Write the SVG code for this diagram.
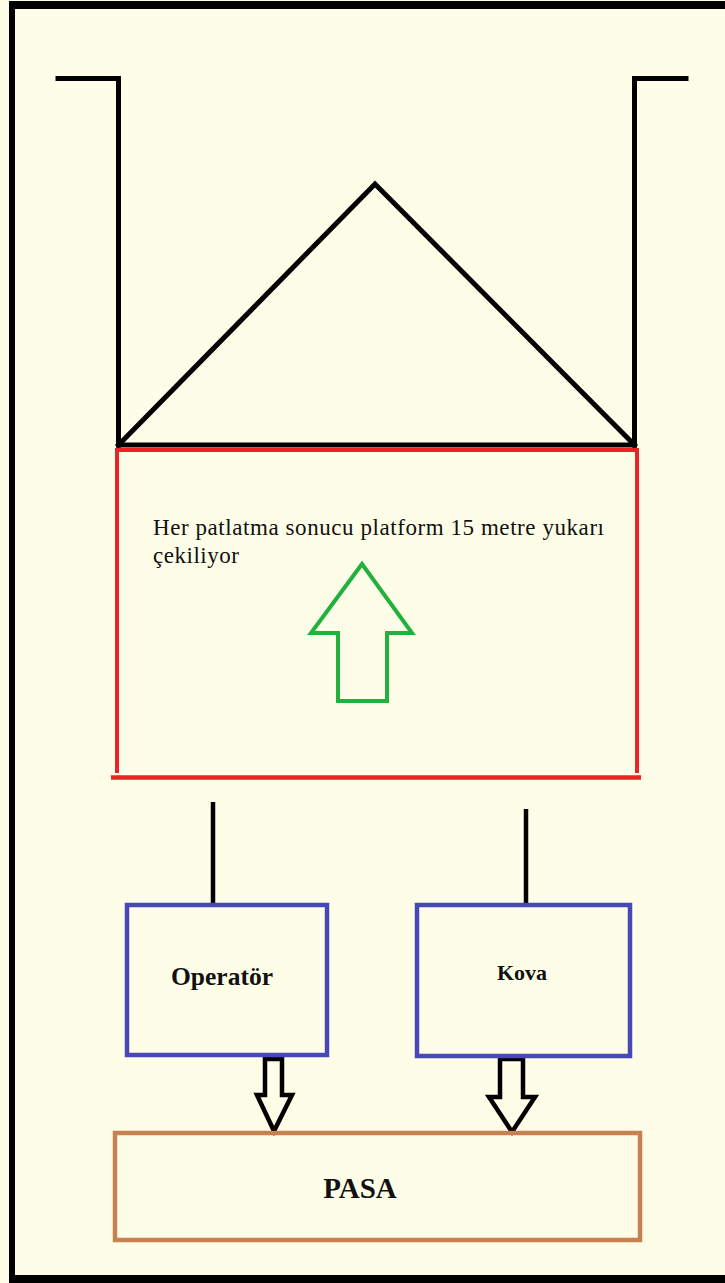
<svg xmlns="http://www.w3.org/2000/svg" width="725" height="1283" viewBox="0 0 725 1283">
<style>
.blk{stroke:#000;stroke-width:5;fill:none;stroke-linecap:square}
.box{fill:none;stroke:#4848b8;stroke-width:4.5}
.txt{font-family:"Liberation Serif","Times New Roman",serif;fill:#111}
.bold{font-weight:bold}
.darr{fill:#fefee8;stroke:#000;stroke-width:4.5;stroke-linejoin:miter}
</style>
<rect x="0" y="0" width="725" height="1283" fill="#fefee8"/>
<g id="frame">
<rect x="9" y="1" width="716" height="8" fill="#000"/>
<rect x="9" y="1" width="6" height="1282" fill="#000"/>
<rect x="9" y="1275" width="716" height="8" fill="#000"/>
</g>
<g id="structure">
<polyline class="blk" points="58,78.5 118.5,78.5 118.5,445"/>
<polyline class="blk" points="686,78.5 634.5,78.5 634.5,445"/>
<polyline class="blk" points="118.5,445 375,184 634.5,445"/>
<line class="blk" x1="118.5" y1="445" x2="634.5" y2="445"/>
</g>
<g id="platform">
<polyline points="117,773 117,450 637,450 637,773" fill="none" stroke="#ee2222" stroke-width="4"/>
<line x1="111" y1="777.5" x2="641" y2="777.5" stroke="#ee2222" stroke-width="4.5"/>
<text class="txt" x="153" y="535" font-size="23" textLength="451" lengthAdjust="spacing">Her patlatma sonucu platform 15 metre yukarı</text>
<text class="txt" x="153" y="563" font-size="23" textLength="86" lengthAdjust="spacing">çekiliyor</text>
<polygon points="362,564 412,633 387,633 387,701 338,701 338,633 311,633" fill="none" stroke="#22b13c" stroke-width="4"/>
</g>
<g id="connectors">
<line x1="213" y1="802" x2="213" y2="904" stroke="#000" stroke-width="4.5"/>
<line x1="526" y1="809" x2="526" y2="904" stroke="#000" stroke-width="4.5"/>
<polygon class="darr" points="265,1059 282,1059 282,1095 292,1095 274,1131 257,1095 265,1095"/>
<polygon class="darr" points="500,1059 523,1059 523,1097 535,1097 512,1132 489,1097 500,1097"/>
</g>
<g id="operator">
<rect class="box" x="127" y="905" width="200" height="150"/>
<text class="txt bold" x="222" y="985" font-size="25.5" text-anchor="middle">Operatör</text>
</g>
<g id="kova">
<rect class="box" x="417" y="905" width="213" height="151"/>
<text class="txt bold" x="522" y="980" font-size="22" text-anchor="middle">Kova</text>
</g>
<g id="pasa">
<rect x="115" y="1133" width="525" height="107" fill="none" stroke="#c8804f" stroke-width="4.5"/>
<text class="txt bold" x="360" y="1198" font-size="29" text-anchor="middle">PASA</text>
</g>
</svg>
